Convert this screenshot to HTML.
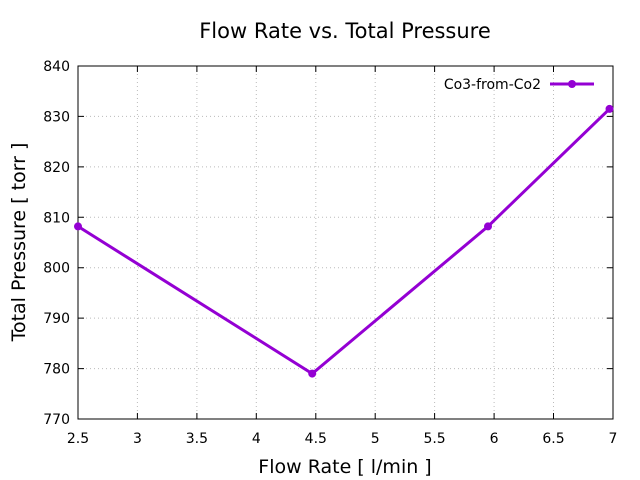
<!DOCTYPE html>
<html><head><style>body{margin:0;background:#fff}svg{display:block}text{font-family:"DejaVu Sans","Liberation Sans",sans-serif;fill:#000}</style></head><body>
<svg width="640" height="480" xmlns="http://www.w3.org/2000/svg">
<rect width="640" height="480" fill="#fff"/>
<g stroke="#bbb" stroke-width="1" stroke-dasharray="1,3">
<line x1="137.4" y1="66" x2="137.4" y2="419"/><line x1="196.9" y1="66" x2="196.9" y2="419"/><line x1="256.3" y1="66" x2="256.3" y2="419"/><line x1="315.8" y1="66" x2="315.8" y2="419"/><line x1="375.2" y1="66" x2="375.2" y2="419"/><line x1="434.6" y1="66" x2="434.6" y2="419"/><line x1="494.1" y1="66" x2="494.1" y2="419"/><line x1="553.5" y1="66" x2="553.5" y2="419"/>
<line x1="78" y1="116.4" x2="613" y2="116.4"/><line x1="78" y1="166.9" x2="613" y2="166.9"/><line x1="78" y1="217.3" x2="613" y2="217.3"/><line x1="78" y1="267.7" x2="613" y2="267.7"/><line x1="78" y1="318.1" x2="613" y2="318.1"/><line x1="78" y1="368.6" x2="613" y2="368.6"/>
</g>
<rect x="78" y="66" width="535" height="353" fill="none" stroke="#000" stroke-width="1"/>
<g stroke="#000">
<path d="M137.4 419v-6M196.9 419v-6M256.3 419v-6M315.8 419v-6M375.2 419v-6M434.6 419v-6M494.1 419v-6M553.5 419v-6M137.4 66v6M196.9 66v6M256.3 66v6M315.8 66v6M375.2 66v6M434.6 66v6M494.1 66v6M553.5 66v6"/>
<path d="M78 116.4h6M78 166.9h6M78 217.3h6M78 267.7h6M78 318.1h6M78 368.6h6M613 116.4h-6M613 166.9h-6M613 217.3h-6M613 267.7h-6M613 318.1h-6M613 368.6h-6"/>
</g>
<g font-size="14" text-anchor="middle">
<text x="78" y="443">2.5</text><text x="137.4" y="443">3</text><text x="196.9" y="443">3.5</text><text x="256.3" y="443">4</text><text x="315.8" y="443">4.5</text><text x="375.2" y="443">5</text><text x="434.6" y="443">5.5</text><text x="494.1" y="443">6</text><text x="553.5" y="443">6.5</text><text x="613" y="443">7</text>
</g>
<g font-size="14" text-anchor="end">
<text x="70" y="71">840</text><text x="70" y="121.4">830</text><text x="70" y="171.9">820</text><text x="70" y="222.3">810</text><text x="70" y="272.7">800</text><text x="70" y="323.1">790</text><text x="70" y="373.6">780</text><text x="70" y="424">770</text>
</g>
<text x="345" y="38" font-size="21" text-anchor="middle">Flow Rate vs. Total Pressure</text>
<text x="345" y="473" font-size="19" text-anchor="middle">Flow Rate [ l/min ]</text>
<text transform="translate(25,242) rotate(-90)" font-size="19" text-anchor="middle">Total Pressure [ torr ]</text>
<text x="541" y="89" font-size="14" text-anchor="end">Co3-from-Co2</text>
<line x1="550" y1="84" x2="594" y2="84" stroke="#9400d3" stroke-width="3"/>
<circle cx="572" cy="84" r="4" fill="#9400d3"/>
<polyline points="78,226.4 312.2,373.6 488,226.4 609.5,108.9" fill="none" stroke="#9400d3" stroke-width="3"/>
<g fill="#9400d3"><circle cx="78" cy="226.4" r="4"/><circle cx="312.2" cy="373.6" r="4"/><circle cx="488" cy="226.4" r="4"/><circle cx="609.5" cy="108.9" r="4"/></g>
</svg>
</body></html>
